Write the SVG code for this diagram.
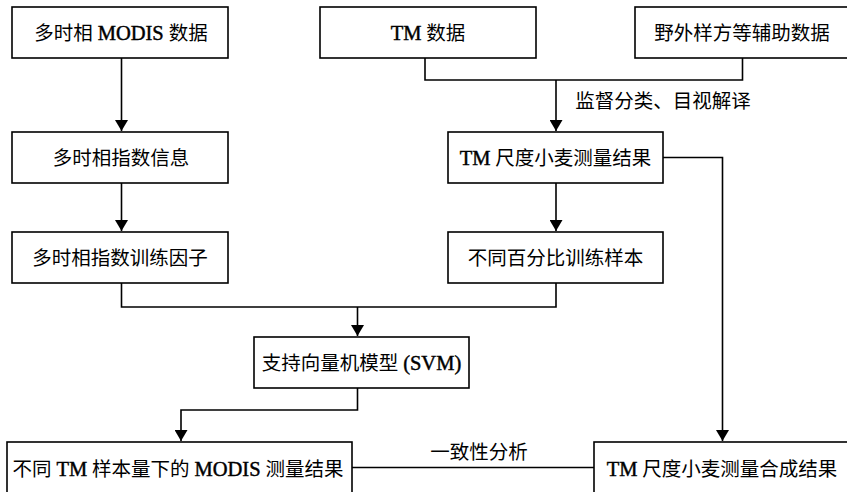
<svg xmlns="http://www.w3.org/2000/svg" width="847" height="492" viewBox="0 0 847 492">
<style>
.box{fill:#fff;stroke:#000;stroke-width:1.6}
.t{font-family:"Liberation Serif","Noto Sans CJK SC",serif;font-size:19.5px;fill:#000;text-anchor:middle;dominant-baseline:central}
.b{font-size:20.5px;stroke:#000;stroke-width:0.45}
.c{fill:none;stroke:#000;stroke-width:1.6}
</style>
<defs>
<marker id="ah" markerWidth="11" markerHeight="13" refX="11" refY="6.5" orient="auto" markerUnits="userSpaceOnUse">
<path d="M0,0 L11,6.5 L0,13 z" fill="#000"/>
</marker>
</defs>
<rect width="847" height="492" fill="#fff"/>
<g id="connectors">
<path class="c" d="M121.5,58 V131" marker-end="url(#ah)"/>
<path class="c" d="M121.5,183 V231" marker-end="url(#ah)"/>
<path class="c" d="M425,58 V80 H742.5 V58"/>
<path class="c" d="M556,80 V131" marker-end="url(#ah)"/>
<path class="c" d="M556,183 V231" marker-end="url(#ah)"/>
<path class="c" d="M663,157.5 H722.5 V441" marker-end="url(#ah)"/>
<path class="c" d="M121.5,283 V307 H556 V283"/>
<path class="c" d="M357.5,307 V336" marker-end="url(#ah)"/>
<path class="c" d="M357.5,388 V410 H181 V441" marker-end="url(#ah)"/>
<path class="c" d="M352,467.5 H594"/>
<text class="t" x="479" y="452">一致性分析</text>
<text class="t" x="663" y="101">监督分类、目视解译</text>
</g>
<g id="n1"><rect class="box" x="12" y="7" width="216" height="51"/><text class="t" x="121" y="33">多时相 <tspan class="b">MODIS</tspan> 数据</text></g>
<g id="n2"><rect class="box" x="320" y="7" width="216" height="51"/><text class="t" x="428" y="33"><tspan class="b">TM</tspan> 数据</text></g>
<g id="n3"><rect class="box" x="635" y="7" width="220" height="51"/><text class="t" x="742" y="33">野外样方等辅助数据</text></g>
<g id="n4"><rect class="box" x="12" y="132" width="216" height="51"/><text class="t" x="121" y="158">多时相指数信息</text></g>
<g id="n5"><rect class="box" x="448" y="132" width="215" height="51"/><text class="t" x="555.5" y="158"><tspan class="b">TM</tspan> 尺度小麦测量结果</text></g>
<g id="n6"><rect class="box" x="12" y="232" width="216" height="51"/><text class="t" x="120" y="258">多时相指数训练因子</text></g>
<g id="n7"><rect class="box" x="448" y="232" width="215" height="51"/><text class="t" x="555.5" y="258">不同百分比训练样本</text></g>
<g id="n8"><rect class="box" x="254" y="337" width="215" height="51"/><text class="t" x="361.5" y="363">支持向量机模型 <tspan class="b">(SVM)</tspan></text></g>
<g id="n9"><rect class="box" x="7" y="442" width="345" height="60"/><text class="t" x="178" y="469">不同 <tspan class="b">TM</tspan> 样本量下的 <tspan class="b">MODIS</tspan> 测量结果</text></g>
<g id="n10"><rect class="box" x="594" y="442" width="260" height="60"/><text class="t" x="722" y="469"><tspan class="b">TM</tspan> 尺度小麦测量合成结果</text></g>
</svg>
